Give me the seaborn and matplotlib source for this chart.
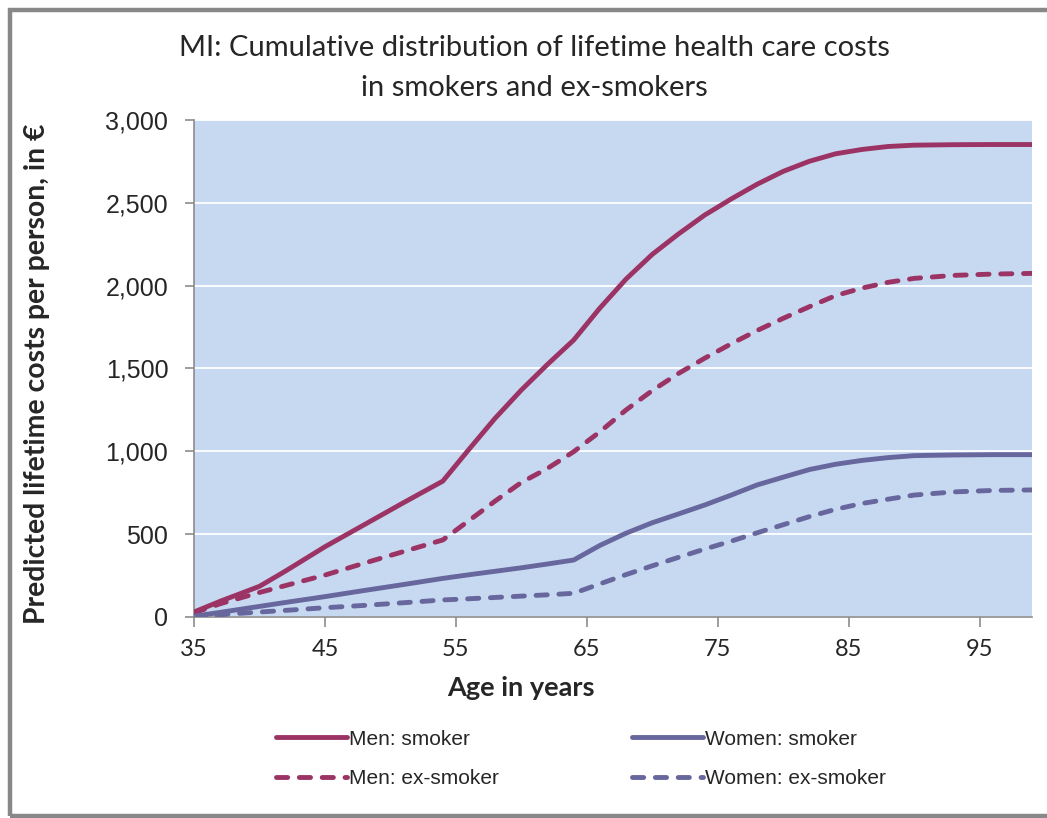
import matplotlib
matplotlib.use("Agg")
import matplotlib.pyplot as plt
from matplotlib.patches import Rectangle
from matplotlib.ticker import FuncFormatter
import seaborn as sns
import pandas as pd

# Age grid at which the cumulative costs are given
ages = [35, 37, 40, 42, 45, 48, 51, 54, 56, 58, 60, 62, 64, 66, 68, 70, 72, 74,
        76, 78, 80, 82, 84, 86, 88, 90, 93, 96, 99]

# Cumulative predicted lifetime costs per person (EUR)
men_smoker = [30, 95, 185, 278, 424, 557, 690, 820, 1012, 1200, 1370, 1525, 1672,
              1865, 2040, 2189, 2312, 2426, 2522, 2612, 2690, 2751, 2796, 2822,
              2840, 2848, 2851, 2852, 2852]
men_ex_smoker = [25, 80, 148, 190, 253, 325, 395, 465, 582, 700, 812, 897, 998,
                 1118, 1250, 1367, 1470, 1562, 1648, 1729, 1803, 1873, 1940, 1985,
                 2020, 2044, 2062, 2070, 2074]
women_smoker = [5, 28, 64, 88, 123, 160, 196, 233, 255, 276, 297, 320, 344,
                432, 506, 569, 622, 676, 735, 797, 844, 890, 922, 945,
                962, 974, 978, 980, 980]
women_ex_smoker = [3, 14, 30, 40, 56, 70, 86, 103, 110, 118, 126, 134, 143,
                   200, 256, 309, 360, 410, 457, 508, 557, 606, 650, 685,
                   711, 736, 755, 764, 767]

series_labels = ["Men: smoker", "Men: ex-smoker", "Women: smoker", "Women: ex-smoker"]
x_ticks = [35, 45, 55, 65, 75, 85, 95]
y_ticks = [0, 500, 1000, 1500, 2000, 2500, 3000]

MEN = "#9b3464"
WOMEN = "#67679e"
BG = "#c6d9f0"
AXIS_GREY = "#8c8c8c"

sns.set_theme(style="white")
plt.rcParams["font.family"] = ["Liberation Sans", "DejaVu Sans"]

df = pd.DataFrame({
    "age": ages * 4,
    "cost": men_smoker + men_ex_smoker + women_smoker + women_ex_smoker,
    "series": sum([[s] * len(ages) for s in series_labels], []),
})

fig = plt.figure(figsize=(10.47, 8.18), dpi=100)
ax = fig.add_axes([194 / 1047, 1 - 617 / 818, (1032 - 194) / 1047, (617 - 120) / 818])
ax.set_facecolor(BG)

styles = {
    "Men: smoker": (MEN, "-"),
    "Men: ex-smoker": (MEN, (0, (2.3, 2.4))),
    "Women: smoker": (WOMEN, "-"),
    "Women: ex-smoker": (WOMEN, (0, (2.3, 2.4))),
}
for name in series_labels:
    color, ls = styles[name]
    sns.lineplot(data=df[df["series"] == name], x="age", y="cost", ax=ax,
                 color=color, linestyle=ls, linewidth=3.5, label=name,
                 dash_capstyle="round", solid_capstyle="round",
                 solid_joinstyle="round", zorder=3)

ax.set_xlim(35, 99)
ax.set_ylim(0, 3000)
ax.set_xticks(x_ticks)
ax.set_yticks(y_ticks)
ax.yaxis.set_major_formatter(FuncFormatter(lambda v, p: f"{int(v):,}"))
ax.grid(axis="y", color="white", linewidth=1.3)
ax.grid(axis="x", visible=False)
ax.set_axisbelow(True)

for side in ["top", "right"]:
    ax.spines[side].set_visible(False)
for side in ["left", "bottom"]:
    ax.spines[side].set_color(AXIS_GREY)
    ax.spines[side].set_linewidth(1.2)

ax.tick_params(axis="y", direction="out", length=6.5, width=1.2, color=AXIS_GREY,
               labelsize=18, pad=12, left=True)
ax.tick_params(axis="x", direction="out", length=7, width=1.2, color=AXIS_GREY,
               labelsize=17, pad=9, bottom=True)
for lbl in ax.get_xticklabels():
    lbl.set_fontfamily(["Lato", "DejaVu Sans"])

ax.set_xlabel("Age in years", fontsize=19.5, fontweight="bold",
              fontfamily=["Lato", "DejaVu Sans"])
ax.xaxis.label.set_va("center")
ax.xaxis.set_label_coords((521 - 194) / 838, -(688 - 617) / 497)
ax.set_ylabel("Predicted lifetime costs per person, in €", fontsize=20.4,
              fontweight="bold", fontfamily=["Lato", "DejaVu Sans"])
ax.yaxis.label.set_va("center")
ax.yaxis.set_label_coords((37 - 194) / 838, (617 - 373.5) / 497)

fig.text(534 / 1047, 1 - 68 / 818,
         "MI: Cumulative distribution of lifetime health care costs\nin smokers and ex-smokers",
         ha="center", va="center", fontsize=21, linespacing=1.62,
         fontfamily=["Lato", "DejaVu Sans"])

handles, labels = ax.get_legend_handles_labels()
ax.legend_.remove()
fig.legend(handles, labels, ncol=2, loc="center", bbox_to_anchor=(581 / 1047, 1 - 759 / 818),
           frameon=False, fontsize=15, handlelength=3.4, handletextpad=0.1,
           columnspacing=6.4, labelspacing=1.0)

# Chart-area border
fig.add_artist(Rectangle((9.5 / 1047, 2.5 / 818), 1.2, 1 - 9.5 / 818 - 2.5 / 818,
                         transform=fig.transFigure, fill=False,
                         edgecolor="#888888", linewidth=3.2, clip_on=False))

fig.savefig("out.png", dpi=100, facecolor="white")
